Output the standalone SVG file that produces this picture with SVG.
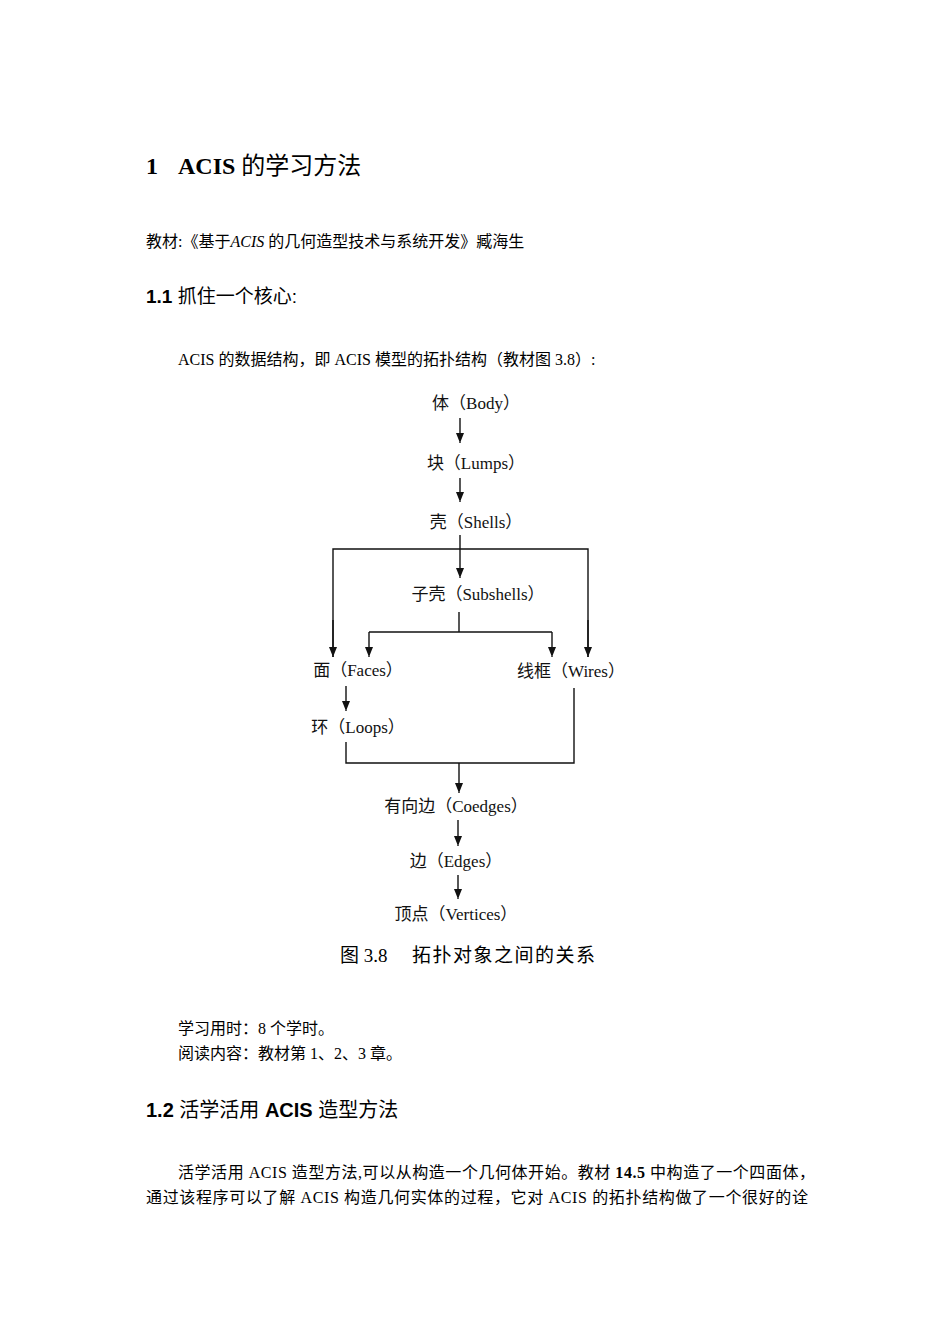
<svg xmlns="http://www.w3.org/2000/svg" width="950" height="1344" viewBox="0 0 950 1344">
<style>
.s{font-family:"Liberation Serif","Noto Sans CJK SC",serif;fill:#000}
.h{font-family:"Liberation Sans","Noto Sans CJK SC",sans-serif;fill:#000;font-weight:bold}
.n{font-family:"Liberation Serif","Noto Sans CJK SC",serif;font-size:17px;fill:#111;text-anchor:middle}
.c line,.c polyline{stroke:#111;stroke-width:1.4;fill:none}
</style>
<defs>
<marker id="d" viewBox="0 0 8 10" markerWidth="8" markerHeight="10" refX="10" refY="4" orient="auto" markerUnits="userSpaceOnUse"><path d="M0,0 L10,4 L0,8 Z" fill="#111"/></marker></defs>
<rect width="950" height="1344" fill="#fff"/>
<text class="s" x="146" y="174" font-size="24"><tspan font-weight="bold">1</tspan><tspan x="178" font-weight="bold">ACIS</tspan><tspan> 的学习方法</tspan></text>
<text class="s" x="146" y="247" font-size="16">教材:《基于<tspan font-style="italic">ACIS</tspan> 的几何造型技术与系统开发》臧海生</text>
<text class="h" x="146" y="303" font-size="19">1.1 <tspan font-weight="normal">抓住一个核心:</tspan></text>
<text class="s" x="178" y="365" font-size="16">ACIS 的数据结构，即 ACIS 模型的拓扑结构（教材图 3.8）:</text>
<g id="body"><text class="n" x="476" y="409">体（Body）</text></g>
<g id="lumps"><text class="n" x="476" y="469">块（Lumps）</text></g>
<g id="shells"><text class="n" x="476" y="528">壳（Shells）</text></g>
<g id="subshells"><text class="n" x="478" y="600">子壳（Subshells）</text></g>
<g id="faces"><text class="n" x="358" y="676">面（Faces）</text></g>
<g id="wires"><text class="n" x="571" y="677">线框（Wires）</text></g>
<g id="loops"><text class="n" x="358" y="733">环（Loops）</text></g>
<g id="coedges"><text class="n" x="456" y="812">有向边（Coedges）</text></g>
<g id="edges"><text class="n" x="456" y="867">边（Edges）</text></g>
<g id="vertices"><text class="n" x="456" y="920">顶点（Vertices）</text></g>
<text class="s" x="340" y="962" font-size="19">图 3.8<tspan x="412" letter-spacing="1.5">拓扑对象之间的关系</tspan></text>
<g class="c" id="connectors">
<line x1="460" y1="418" x2="460" y2="443" marker-end="url(#d)"/>
<line x1="460" y1="478" x2="460" y2="502" marker-end="url(#d)"/>
<line x1="460" y1="535" x2="460" y2="578" marker-end="url(#d)"/>
<polyline points="333,657 333,549 588,549 588,657"/>
<line x1="333" y1="620" x2="333" y2="657" marker-end="url(#d)"/>
<line x1="588" y1="620" x2="588" y2="657" marker-end="url(#d)"/>
<line x1="459" y1="612" x2="459" y2="632"/>
<polyline points="369,632 552,632"/>
<line x1="369" y1="632" x2="369" y2="657" marker-end="url(#d)"/>
<line x1="552" y1="632" x2="552" y2="657" marker-end="url(#d)"/>
<line x1="346" y1="686" x2="346" y2="711" marker-end="url(#d)"/>
<polyline points="346,742 346,763 574,763 574,688"/>
<line x1="459" y1="763" x2="459" y2="793" marker-end="url(#d)"/>
<line x1="458" y1="820" x2="458" y2="846" marker-end="url(#d)"/>
<line x1="458" y1="875" x2="458" y2="899" marker-end="url(#d)"/>
</g>
<text class="s" x="178" y="1034" font-size="16">学习用时：8 个学时。</text>
<text class="s" x="178" y="1059" font-size="16">阅读内容：教材第 1、2、3 章。</text>
<text class="h" x="146" y="1117" font-size="20">1.2 <tspan font-weight="normal">活学活用 </tspan>ACIS<tspan font-weight="normal"> 造型方法</tspan></text>
<text class="s" x="178" y="1178" font-size="16" textLength="637">活学活用 ACIS 造型方法,可以从构造一个几何体开始。教材 <tspan font-weight="bold">14.5</tspan> 中构造了一个四面体，</text>
<text class="s" x="146" y="1203" font-size="16" textLength="662">通过该程序可以了解 ACIS 构造几何实体的过程，它对 ACIS 的拓扑结构做了一个很好的诠</text>
</svg>
